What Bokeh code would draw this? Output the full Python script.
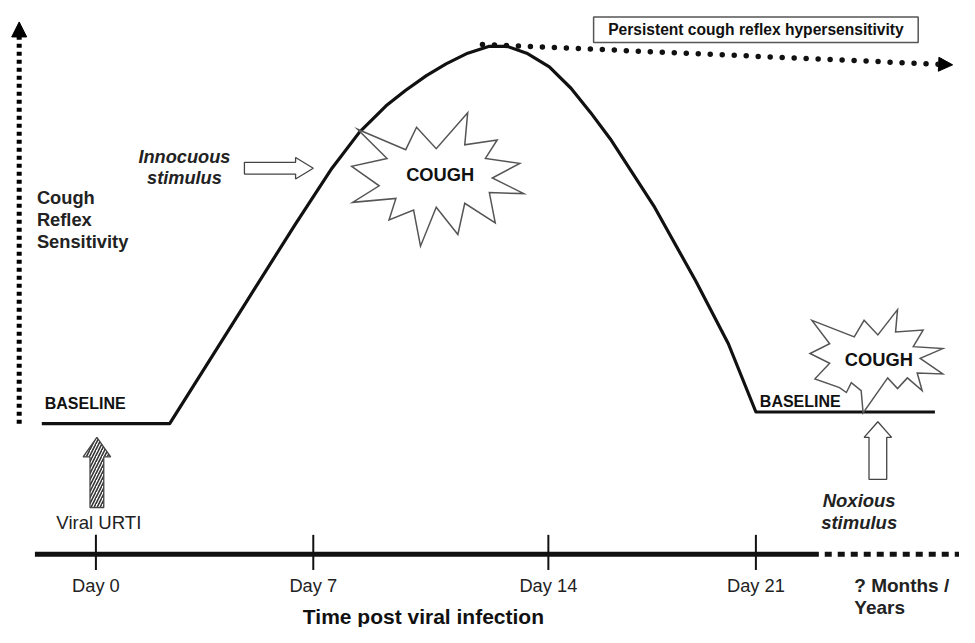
from bokeh.plotting import figure
from bokeh.models import Range1d, Arrow, NormalHead
from bokeh.core.properties import value
from bokeh.embed import file_html
from bokeh.resources import INLINE

FONT = value("Liberation Sans")

# ---- data (diagram units: x to the right, y downward) ----
curve_x = [42, 172, 250, 300, 337, 365, 392, 412, 433, 453, 475, 497, 515, 535, 558, 580, 600, 620, 665, 707, 740, 768, 950]
curve_y = [434, 434, 309, 229, 172, 135, 108, 92, 77, 65, 54, 47, 47, 54, 68, 90, 115, 142, 212, 288, 352, 422, 422]

tick_pos = [97, 318, 557, 768]
tick_labels = ["Day 0", "Day 7", "Day 14", "Day 21"]

persist_start = (490, 45)
persist_end = (968, 66)

big_burst_x = [363, 412, 423, 443, 475, 472, 505, 493, 528, 500, 532, 497, 503, 472, 465, 443, 427, 420, 395, 402, 358, 385, 357, 393]
big_burst_y = [132, 153, 130, 152, 115, 148, 143, 162, 167, 182, 198, 197, 228, 208, 240, 212, 252, 215, 225, 203, 207, 190, 170, 162]

small_burst_x = [825, 868, 878, 892, 912, 910, 938, 928, 958, 935, 958, 932, 937, 922, 912, 902, 877, 875, 865, 860, 853, 828, 843, 823, 843]
small_burst_y = [328, 345, 328, 343, 317, 340, 338, 355, 357, 367, 383, 382, 400, 387, 398, 387, 423, 400, 392, 402, 397, 388, 372, 362, 352]

innoc_arrow_x = [248, 300, 300, 318, 300, 300, 248]
innoc_arrow_y = [166, 166, 161, 172, 183, 178, 178]

viral_arrow_x = [91, 91, 84, 98, 112, 105, 105]
viral_arrow_y = [520, 468, 468, 448, 468, 468, 520]

nox_arrow_x = [883, 883, 878, 892, 906, 901, 901]
nox_arrow_y = [491, 448, 448, 432, 448, 448, 491]

# ---- figure ----
p = figure(width=959, height=627, x_range=Range1d(0, 975), y_range=Range1d(643, 0),
           output_backend="svg", toolbar_location=None, min_border=0)
p.axis.visible = False
p.grid.visible = False
p.outline_line_color = None
p.background_fill_color = "white"

# left dotted y-axis arrow
p.add_layout(Arrow(x_start=19, y_start=434, x_end=19, y_end=22,
                   end=NormalHead(size=15, fill_color="black", line_color="black", line_width=1),
                   line_width=5, line_dash="4 4", line_color="black"))

# persistent hypersensitivity dotted arrow
p.add_layout(Arrow(x_start=persist_start[0], y_start=persist_start[1], x_end=persist_end[0], y_end=persist_end[1],
                   end=NormalHead(size=14, fill_color="black", line_color="black", line_width=1),
                   line_width=5.5, line_dash="0 12", line_cap="round", line_color="#111111"))

# main curve
p.line(curve_x, curve_y, line_width=3.2, line_color="#111111", line_join="round")

# time axis
p.line([35, 832], [568, 568], line_width=5, line_color="#111111")
p.line([838, 975], [568, 568], line_width=5, line_color="#111111", line_dash="7 6")
p.segment(x0=tick_pos, y0=[548] * 4, x1=tick_pos, y1=[584] * 4, line_width=2, line_color="#111111")
p.text(x=tick_pos, y=[600] * 4, text=tick_labels, text_font=FONT, text_font_size="18.3px",
       text_align="center", text_baseline="middle", text_color="#222222")
p.text(x=[868, 868], y=[600, 623], text=["? Months /", "Years"], text_font=FONT, text_font_size="19px",
       text_font_style="bold", text_align="left", text_baseline="middle", text_color="#222222")
p.text(x=[430], y=[632], text=["Time post viral infection"], text_font=FONT, text_font_size="21px",
       text_font_style="bold", text_align="center", text_baseline="middle", text_color="#111111")

# y label
p.text(x=[37, 37, 37], y=[202, 225, 247], text=["Cough", "Reflex", "Sensitivity"], text_font=FONT,
       text_font_size="18.3px", text_font_style="bold", text_align="left", text_baseline="middle",
       text_color="#222222")

# baselines
p.text(x=[45, 772], y=[413, 411], text=["BASELINE", "BASELINE"], text_font=FONT, text_font_size="16px",
       text_font_style="bold", text_align="left", text_baseline="middle", text_color="#111111")

# persistent box
p.quad(left=[603], right=[933], top=[17], bottom=[43], fill_color="white", line_color="#555555", line_width=1.5)
p.text(x=[768], y=[30], text=["Persistent cough reflex hypersensitivity"], text_font=FONT, text_font_size="15.6px",
       text_font_style="bold", text_align="center", text_baseline="middle", text_color="#111111")

# starbursts
p.patch(big_burst_x, big_burst_y, fill_color="white", line_color="#555555", line_width=1.5, line_join="miter")
p.patch(small_burst_x, small_burst_y, fill_color="white", line_color="#555555", line_width=1.5, line_join="miter")
p.text(x=[447, 893], y=[178, 368], text=["COUGH", "COUGH"], text_font=FONT, text_font_size="18.3px",
       text_font_style="bold", text_align="center", text_baseline="middle", text_color="#111111")

# innocuous stimulus
p.patch(innoc_arrow_x, innoc_arrow_y, fill_color="white", line_color="#444444", line_width=1.3)
p.text(x=[187, 187], y=[160, 182], text=["Innocuous", "stimulus"], text_font=FONT, text_font_size="18.2px",
       text_font_style="bold italic", text_align="center", text_baseline="middle", text_color="#222222")

# viral URTI
p.patch(viral_arrow_x, viral_arrow_y, fill_color="white", line_color="#444444", line_width=1.3,
        hatch_pattern="/", hatch_color="#333333", hatch_scale=6, hatch_weight=1.6)
p.text(x=[100], y=[535], text=["Viral URTI"], text_font=FONT, text_font_size="18.6px",
       text_align="center", text_baseline="middle", text_color="#222222")

# noxious stimulus
p.patch(nox_arrow_x, nox_arrow_y, fill_color="white", line_color="#444444", line_width=1.3)
p.text(x=[873, 873], y=[513, 535], text=["Noxious", "stimulus"], text_font=FONT, text_font_size="18.5px",
       text_font_style="bold italic", text_align="center", text_baseline="middle", text_color="#222222")

open("out.html", "w").write(file_html(p, INLINE))
